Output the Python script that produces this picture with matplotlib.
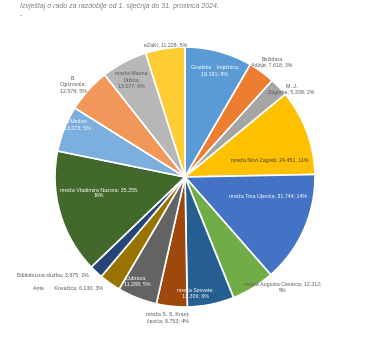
import matplotlib.pyplot as plt

# podaci s grafa
names = ['Gradska    knjižnica;', 'Božidara\nAdžije;', 'M. J.\nZagorke;', 'mreža Novi Zagreb;',
         'mreža Tina Ujevića;', 'mreža Augusta Cesarca;', 'mreža Sesvete;', 'mreža S. S. Kranj-\nčevića;',
         'Dubrava;', 'Ante       Kovačića;', 'Bibliobusna služba;', 'mreža Vladimira Nazora;',
         'mreža Medve-\nšćak;', 'B.\nOgrizovića;', 'mreža Marina\nDržića;', 'eZaKi;']
values = [19.191, 7.618, 5.339, 24.451, 31.744, 12.312, 13.306, 8.753,
          11.288, 6.130, 3.875, 35.255, 13.073, 12.579, 13.077, 11.228]
value_txt = ['19.191', '7.618', '5.339', '24.451', '31.744', '12.312', '13.306', '8.753',
             '11.288', '6.130', '3.875', '35.255', '13.073', '12.579', '13.077', '11.228']
percents = [8, 3, 2, 11, 14, 5, 6, 4, 5, 3, 2, 16, 5, 5, 6, 5]
# kako je razlomljen tekst oznake (vrijednost u novi red ili ne)
breaks = ['\n', ' ', ' ', ' ', ' ', ' ', '\n', ' ', '\n', ' ', ' ', ' ', ' ', '\n', '\n', ' ']
pct_break = [' ', ' ', ' ', ' ', ' ', '\n', ' ', ' ', ' ', ' ', ' ', '\n', ' ', ' ', ' ', ' ']

colors = ['#5B9BD5', '#ED7D31', '#A5A5A5', '#FFC000', '#4472C4', '#70AD47', '#255E91', '#9E480E',
          '#636363', '#997300', '#264478', '#43682B', '#7CAFDD', '#F1975A', '#B7B7B7', '#FFCD33']
txt_colors = ['white', '#595959', '#595959', '#404040', 'white', '#595959', 'white', '#595959',
              'white', '#595959', '#595959', 'white', 'white', '#595959', '#595959', '#595959']
# polozaj oznaka (u jedinicama radijusa)
label_xy = [(0.23, 0.82), (0.67, 0.88), (0.82, 0.67), (0.65, 0.13), (0.64, -0.15), (0.75, -0.85),
            (0.08, -0.89), (-0.13, -1.08), (-0.37, -0.80), (-0.90, -0.85), (-1.02, -0.75),
            (-0.66, -0.12), (-0.88, 0.40), (-0.86, 0.71), (-0.41, 0.75), (-0.15, 1.02)]

plt.rcParams['font.family'] = ['Liberation Sans', 'DejaVu Sans']

fig = plt.figure(figsize=(3.83, 3.48), dpi=100)
ax = fig.add_axes([0, 0, 1, 1])
ax.pie(values, colors=colors, startangle=90, counterclock=False, radius=1,
       wedgeprops=dict(edgecolor='white', linewidth=1.2))
ax.set_xlim(-185 / 130, (383 - 185) / 130)
ax.set_ylim((177 - 348) / 130, 177 / 130)
ax.set_aspect('auto')
ax.axis('off')

for i in range(len(values)):
    txt = names[i] + breaks[i] + value_txt[i] + ';' + pct_break[i] + str(percents[i]) + '%'
    ax.text(label_xy[i][0], label_xy[i][1], txt, ha='center', va='center',
            fontsize=3.8, color=txt_colors[i], linespacing=1.3)

fig.text(20 / 383, 1 - 7 / 348, 'Izvještaj o radu za razdoblje od 1. siječnja do 31. prosinca 2024.',
         fontsize=5.0, style='italic', color='#7f7f7f', ha='left', va='center')
fig.text(20 / 383, 1 - 16 / 348, '-', fontsize=5.0, color='#7f7f7f', ha='left', va='center')

fig.savefig('out.png', dpi=100)
